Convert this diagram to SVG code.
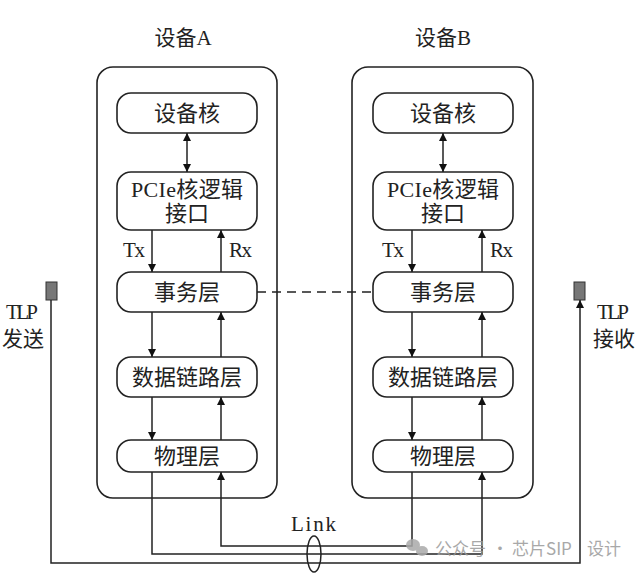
<svg xmlns="http://www.w3.org/2000/svg" width="641" height="574" viewBox="0 0 641 574">
<defs>
<style>
text{font-family:"Liberation Serif","Noto Sans CJK SC",serif;fill:#222;}
.t{font-size:22px;text-anchor:middle;}
.s{font-size:21px;}
.box{fill:#fff;stroke:#222;stroke-width:1.6;}
.ln{fill:none;stroke:#222;stroke-width:1.5;}
.ar{fill:none;stroke:#222;stroke-width:1.5;marker-end:url(#ah);}
.wm{font-family:"Noto Sans CJK SC",sans-serif;font-size:17px;fill:#9a9a9a;}
</style>
<marker id="ah" viewBox="0 0 10 10" refX="10" refY="5" markerWidth="8" markerHeight="9" markerUnits="userSpaceOnUse" orient="auto">
<path d="M0,0 L10,5 L0,10 z" fill="#111"/>
</marker>
<marker id="as" viewBox="0 0 10 10" refX="0" refY="5" markerWidth="8" markerHeight="9" markerUnits="userSpaceOnUse" orient="auto">
<path d="M10,0 L0,5 L10,10 z" fill="#111"/>
</marker>
</defs>
<g id="deviceA">
<rect class="box" x="97" y="67" width="180" height="431" rx="16"/>
<text class="t" x="183" y="45" style="font-size:21px">设备A</text>
</g>
<g id="deviceB">
<rect class="box" x="352" y="67" width="181" height="431" rx="16"/>
<text class="t" x="443" y="45" style="font-size:21px">设备B</text>
</g>
<g id="coreA"><rect class="box" x="117" y="93" width="140" height="40" rx="14"/><text class="t" x="187" y="121">设备核</text></g>
<g id="pcieA"><rect class="box" x="117" y="172" width="140" height="58" rx="14"/><text class="t" x="187" y="197" textLength="112">PCIe核逻辑</text><text class="t" x="187" y="221">接口</text></g>
<g id="transA"><rect class="box" x="117" y="272" width="140" height="40" rx="14"/><text class="t" x="187" y="300">事务层</text></g>
<g id="linkA"><rect class="box" x="117" y="357" width="140" height="40" rx="14"/><text class="t" x="187" y="385">数据链路层</text></g>
<g id="phyA"><rect class="box" x="117" y="440" width="140" height="32" rx="14"/><text class="t" x="187" y="464">物理层</text></g>
<g id="coreB"><rect class="box" x="373" y="93" width="140" height="40" rx="14"/><text class="t" x="443" y="121">设备核</text></g>
<g id="pcieB"><rect class="box" x="373" y="172" width="140" height="58" rx="14"/><text class="t" x="443" y="197" textLength="112">PCIe核逻辑</text><text class="t" x="443" y="221">接口</text></g>
<g id="transB"><rect class="box" x="373" y="272" width="140" height="40" rx="14"/><text class="t" x="443" y="300">事务层</text></g>
<g id="linkB"><rect class="box" x="373" y="357" width="140" height="40" rx="14"/><text class="t" x="443" y="385">数据链路层</text></g>
<g id="phyB"><rect class="box" x="373" y="440" width="140" height="32" rx="14"/><text class="t" x="443" y="464">物理层</text></g>
<g id="tlpSend"><rect x="46" y="282" width="11" height="18" fill="#777" stroke="#333" stroke-width="1"/><text class="s" x="22" y="319" text-anchor="middle" textLength="32">TLP</text><text class="s" x="23" y="346" text-anchor="middle">发送</text></g>
<g id="tlpRecv"><rect x="574" y="282" width="11" height="18" fill="#777" stroke="#333" stroke-width="1"/><text class="s" x="613" y="319" text-anchor="middle" textLength="32">TLP</text><text class="s" x="614" y="346" text-anchor="middle">接收</text></g>
<g id="connectors">
<line class="ar" x1="187" y1="133" x2="187" y2="172" style="marker-start:url(#as)"/>
<line class="ar" x1="443" y1="133" x2="443" y2="172" style="marker-start:url(#as)"/>
<line class="ar" x1="152" y1="230" x2="152" y2="272"/>
<line class="ar" x1="221" y1="272" x2="221" y2="230"/>
<line class="ar" x1="152" y1="312" x2="152" y2="357"/>
<line class="ar" x1="221" y1="357" x2="221" y2="312"/>
<line class="ar" x1="152" y1="397" x2="152" y2="440"/>
<line class="ar" x1="221" y1="440" x2="221" y2="397"/>
<line class="ar" x1="412" y1="230" x2="412" y2="272"/>
<line class="ar" x1="482" y1="272" x2="482" y2="230"/>
<line class="ar" x1="412" y1="312" x2="412" y2="357"/>
<line class="ar" x1="482" y1="357" x2="482" y2="312"/>
<line class="ar" x1="412" y1="397" x2="412" y2="440"/>
<line class="ar" x1="482" y1="440" x2="482" y2="397"/>
<text class="s" x="123" y="257" textLength="22">Tx</text>
<text class="s" x="229" y="257" textLength="23">Rx</text>
<text class="s" x="382" y="257" textLength="22">Tx</text>
<text class="s" x="490" y="257" textLength="23">Rx</text>
<line class="ln" x1="257" y1="292" x2="373" y2="292" stroke-dasharray="9,6"/>
<polyline class="ar" points="152,472 152,554 482,554 482,472"/>
<polyline class="ar" points="412,472 412,546 221,546 221,472"/>
<polyline class="ar" points="51,300 51,563 580,563 580,300"/>
<ellipse class="ln" cx="314" cy="554" rx="7" ry="18"/>
<text class="s" x="291" y="531" textLength="45">Link</text>
</g>
<g id="watermark" opacity="0.85">
<ellipse cx="413" cy="545" rx="7" ry="6" fill="#aaa"/>
<ellipse cx="422" cy="551" rx="6" ry="5" fill="#aaa"/>
<text class="wm" x="435" y="555">公众号</text>
<text class="wm" x="500" y="555" text-anchor="middle">·</text>
<text class="wm" x="512" y="555">芯片SIP</text>
<text class="wm" x="587" y="555">设计</text>
</g>
</svg>
